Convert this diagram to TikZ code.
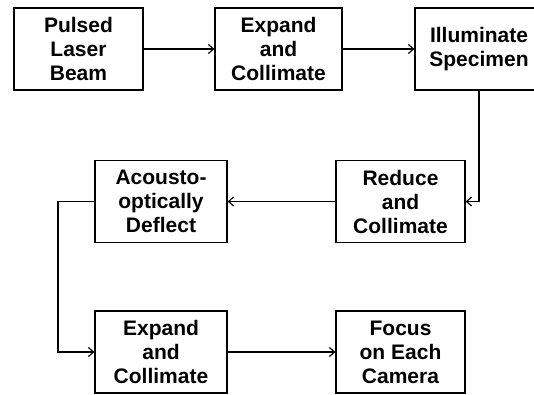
\documentclass[tikz,border=0pt]{standalone}
\usepackage{fontspec}
\setmainfont{Liberation Sans}
\usetikzlibrary{arrows.meta}
\begin{document}
\begin{tikzpicture}[x=1pt,y=-1pt,
  box/.style={draw, line width=1.3pt, minimum width=129pt, minimum height=82pt, inner sep=0pt,
    align=center, font=\fontsize{21}{24}\selectfont\bfseries},
  conn/.style={line width=1.3pt},
  arr/.style={conn, -{Straight Barb[length=5pt,width=9pt,line width=1.2pt]}}]
\useasboundingbox (0,0) rectangle (534,394);
\node[box] (b1) at (78.5,49) {Pulsed\\Laser\\Beam};
\node[box, minimum width=127pt] (b2) at (278.5,49) {Expand\\and\\Collimate};
\node[box, minimum width=128pt] (b3) at (479,49) {Illuminate\\Specimen};
\node[box, minimum width=129pt] (rc) at (400.5,201.5) {Reduce\\and\\Collimate};
\node[box, minimum width=132pt] (ad) at (161,201.5) {Acousto-\\optically\\Deflect};
\node[box, minimum width=132pt] (e2) at (161,352) {Expand\\and\\Collimate};
\node[box, minimum width=129pt] (fc) at (400.5,352) {Focus\\on Each\\Camera};
\coordinate (lx) at (58,0);
\draw[arr] (b1) -- (b2);
\draw[arr] (b2) -- (b3);
\draw[arr] (b3.south) |- (rc.east);
\draw[arr] (rc) -- (ad);
\draw[arr] (ad.west) -- (ad.west -| lx) |- (e2.west);
\draw[arr] (e2) -- (fc);
\end{tikzpicture}
\end{document}
